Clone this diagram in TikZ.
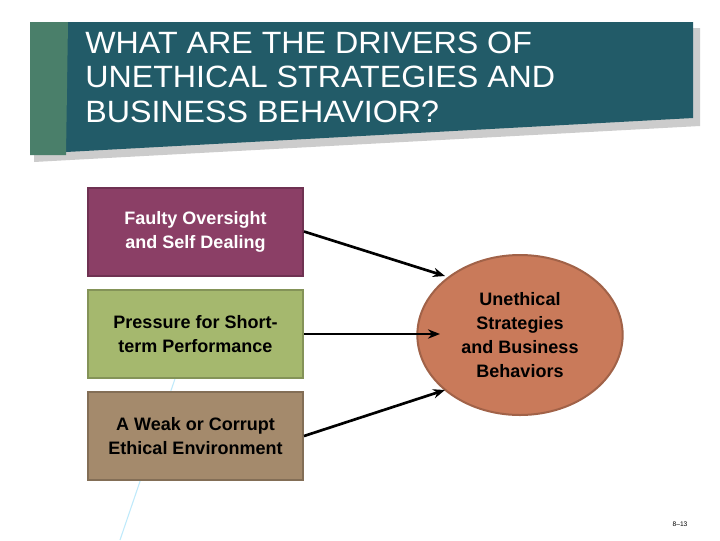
\documentclass[tikz,border=0pt]{standalone}
\usepackage{fontspec}
\setmainfont{Liberation Sans}
\usetikzlibrary{shapes.geometric,arrows.meta}
\definecolor{teal1}{HTML}{225B68}
\definecolor{green1}{HTML}{4A7F6A}
\definecolor{purp}{HTML}{8B3F66}
\definecolor{olive}{HTML}{A5B86E}
\definecolor{tan1}{HTML}{A48A6C}
\definecolor{oval}{HTML}{C97A5A}
\begin{document}
\begin{tikzpicture}[x=0.75pt,y=-0.75pt,
 lbl/.style={font=\bfseries\fontsize{13.5}{18}\selectfont},
 box/.style={lbl,draw=#1!80!black,line width=1.5pt,fill=#1,minimum width=161.25pt,minimum height=66pt,align=center},
 arr/.style={-{Stealth[length=9pt,width=7pt]},line width=2pt,black}]
\useasboundingbox (0,0) rectangle (720,540);
\fill[white] (0,0) rectangle (720,540);
\draw[cyan!25,line width=0.8pt] (178,370) -- (120,540);
\fill[gray!40] (34,30) -- (700,28) -- (700,126) -- (70,160) -- (34,162) -- cycle;
\fill[teal1] (66,22) -- (693,22) -- (693,118) -- (66,152) -- cycle;
\fill[green1] (30,22) -- (68,22) -- (66,155) -- (30,155) -- cycle;
\node[anchor=west,align=left,text=white,font=\fontsize{21}{23.5}\selectfont,inner sep=0pt,xscale=1.15,yscale=1.1] (title) at (85,77) {WHAT ARE THE DRIVERS OF\\UNETHICAL STRATEGIES AND\\BUSINESS BEHAVIOR?};
\node[box=purp,text=white] (a) at (195.5,231.5) {Faulty Oversight\\and Self Dealing};
\node[box=olive] (b) at (195.5,334) {Pressure for Short-\\term Performance};
\node[box=tan1] (c) at (195.5,436) {A Weak or Corrupt\\Ethical Environment};
\node[lbl,ellipse,draw=oval!80!black,line width=1.5pt,fill=oval,minimum width=154pt,minimum height=120pt,inner sep=0pt,align=center] (u) at (520,335) {Unethical\\Strategies\\and Business\\Behaviors};
\coordinate (ua) at (445,276);
\coordinate (ub) at (440,334);
\coordinate (uc) at (445,390);
\draw[arr] (a.east) -- (ua);
\draw[arr] (b.east) -- (ub);
\draw[arr] (c.east) -- (uc);
\node[font=\fontsize{5}{6}\selectfont] (pg) at (680,524) {8--13};
\end{tikzpicture}
\end{document}
